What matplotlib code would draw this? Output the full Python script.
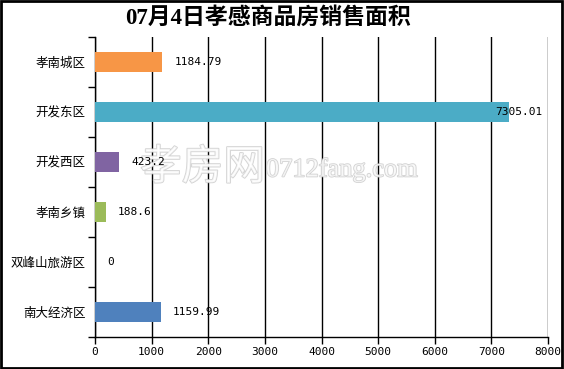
import matplotlib
matplotlib.use('Agg')
import matplotlib.pyplot as plt
import matplotlib.patheffects as pe
from matplotlib.patches import Rectangle

plt.rcParams['font.family'] = ['Liberation Serif', 'Noto Sans CJK SC', 'DejaVu Sans']

#-------------------------------------------------

title = '07月4日孝感商品房销售面积'
regions = ['孝南城区', '开发东区', '开发西区', '孝南乡镇', '双峰山旅游区', '南大经济区']
areas = [1184.79, 7305.01, 423.2, 188.6, 0, 1159.99]
labels = ['1184.79', '7305.01', '423.2', '188.6', '0', '1159.99']
colors = ['#F79646', '#4BACC6', '#8064A2', '#9BBB59', '#C0504D', '#4F81BD']
xticks = [0, 1000, 2000, 3000, 4000, 5000, 6000, 7000, 8000]

#-------------------------------------------------

fig = plt.figure(figsize=(5.64, 3.69), dpi=100)
ax = fig.add_axes([95/564, 32/369, 453/564, 300/369])

n = len(regions)
pos = list(range(n))
ax.barh(pos, areas, height=0.4, color=colors, zorder=3)
ax.set_ylim(n - 0.5, -0.5)
ax.set_xlim(0, 8000)

# value labels
for p, v, s in zip(pos, areas, labels):
    dx = -10 if v > 7000 else 9
    ax.annotate(s, (v, p), xytext=(dx, 0), textcoords='offset points',
                va='center', ha='left', fontsize=8, zorder=5,
                family='DejaVu Sans Mono')

# y axis: tick marks between categories, labels at centers
ax.set_yticks([i - 0.5 for i in range(n + 1)])
ax.set_yticklabels([])
ax.set_yticks(pos, minor=True)
ax.set_yticklabels(regions, minor=True, fontsize=9, family=['Noto Sans CJK SC'])
ax.tick_params(axis='y', which='major', length=5, width=1, color='black', direction='out')
ax.tick_params(axis='y', which='minor', length=0, pad=7)

ax.set_xticks(xticks)
ax.set_xticklabels([str(t) for t in xticks], fontsize=8, family='DejaVu Sans Mono')
ax.tick_params(axis='x', length=5, width=1, color='black', direction='out', pad=2)

ax.grid(axis='x', color='black', linewidth=1, zorder=0)
ax.set_axisbelow(True)
for side in ['top', 'right']:
    ax.spines[side].set_visible(False)
for side in ['left', 'bottom']:
    ax.spines[side].set_linewidth(1)
    ax.spines[side].set_color('black')

fig.text(268/564, 1 - 18/369, title, ha='center', va='center', fontsize=16.5,
         fontweight='bold', family=['Liberation Serif', 'Noto Sans CJK SC'])

# watermark (under the value labels)
stroke = [pe.withStroke(linewidth=1.2, foreground='#c4c4c4')]
ax.text(140/564, 1 - 168/369, '孝房网', fontsize=30, color='white', alpha=0.75,
        va='center', ha='left', family=['Noto Sans CJK SC'], path_effects=stroke,
        transform=fig.transFigure, zorder=4)
ax.text(266/564, 1 - 170/369, '0712fang.com', fontsize=19, color='white', alpha=0.75,
        va='center', ha='left', family='Liberation Serif', path_effects=stroke,
        transform=fig.transFigure, zorder=4)

# figure border
fig.patches.append(Rectangle((0.001, 0.002), 0.996, 0.996, transform=fig.transFigure,
                             fill=False, edgecolor='black', linewidth=2))

fig.savefig('out.png', dpi=100)
